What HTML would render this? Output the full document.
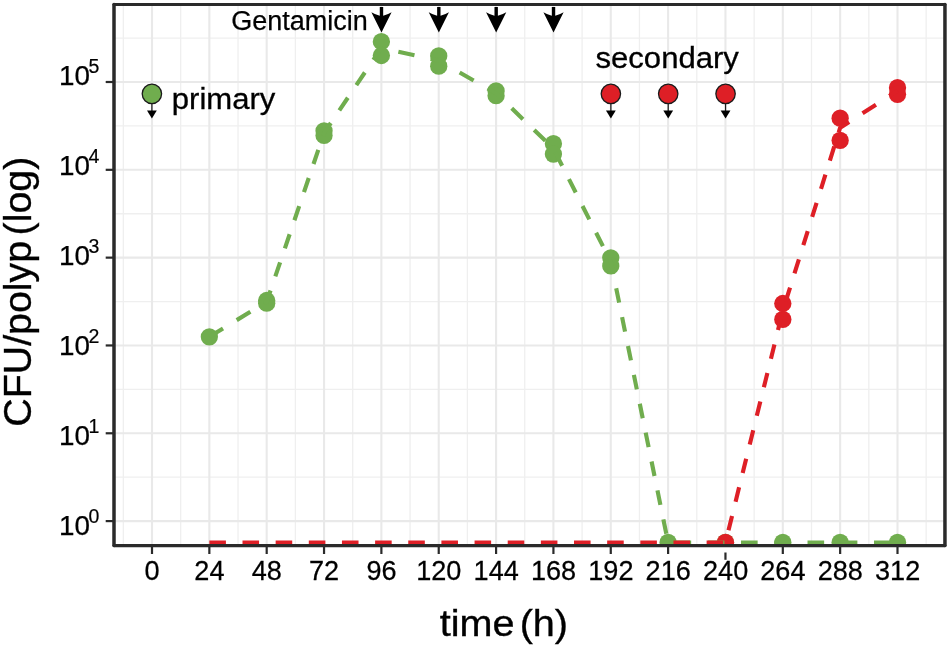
<!DOCTYPE html>
<html><head><meta charset="utf-8"><title>CFU/polyp time course</title>
<style>html,body{margin:0;padding:0;background:#fff}svg{display:block}</style></head>
<body>
<svg width="950" height="648" viewBox="0 0 950 648" font-family="&quot;Liberation Sans&quot;, sans-serif" fill="#000">
<rect width="950" height="648" fill="#fff"/>
<g stroke="#efefef" stroke-width="1.3"><line x1="123.33" x2="123.33" y1="4.5" y2="545.2"/><line x1="180.67" x2="180.67" y1="4.5" y2="545.2"/><line x1="238.02" x2="238.02" y1="4.5" y2="545.2"/><line x1="295.37" x2="295.37" y1="4.5" y2="545.2"/><line x1="352.71" x2="352.71" y1="4.5" y2="545.2"/><line x1="410.06" x2="410.06" y1="4.5" y2="545.2"/><line x1="467.40" x2="467.40" y1="4.5" y2="545.2"/><line x1="524.75" x2="524.75" y1="4.5" y2="545.2"/><line x1="582.10" x2="582.10" y1="4.5" y2="545.2"/><line x1="639.44" x2="639.44" y1="4.5" y2="545.2"/><line x1="696.79" x2="696.79" y1="4.5" y2="545.2"/><line x1="754.13" x2="754.13" y1="4.5" y2="545.2"/><line x1="811.48" x2="811.48" y1="4.5" y2="545.2"/><line x1="868.82" x2="868.82" y1="4.5" y2="545.2"/><line x1="926.17" x2="926.17" y1="4.5" y2="545.2"/><line y1="477.19" y2="477.19" x1="114.0" x2="944.95"/><line y1="389.37" y2="389.37" x1="114.0" x2="944.95"/><line y1="301.55" y2="301.55" x1="114.0" x2="944.95"/><line y1="213.73" y2="213.73" x1="114.0" x2="944.95"/><line y1="125.91" y2="125.91" x1="114.0" x2="944.95"/><line y1="38.09" y2="38.09" x1="114.0" x2="944.95"/></g>
<g stroke="#e9e9e9" stroke-width="2.1"><line x1="152.00" x2="152.00" y1="4.5" y2="545.2"/><line x1="209.35" x2="209.35" y1="4.5" y2="545.2"/><line x1="266.69" x2="266.69" y1="4.5" y2="545.2"/><line x1="324.04" x2="324.04" y1="4.5" y2="545.2"/><line x1="381.38" x2="381.38" y1="4.5" y2="545.2"/><line x1="438.73" x2="438.73" y1="4.5" y2="545.2"/><line x1="496.08" x2="496.08" y1="4.5" y2="545.2"/><line x1="553.42" x2="553.42" y1="4.5" y2="545.2"/><line x1="610.77" x2="610.77" y1="4.5" y2="545.2"/><line x1="668.11" x2="668.11" y1="4.5" y2="545.2"/><line x1="725.46" x2="725.46" y1="4.5" y2="545.2"/><line x1="782.81" x2="782.81" y1="4.5" y2="545.2"/><line x1="840.15" x2="840.15" y1="4.5" y2="545.2"/><line x1="897.50" x2="897.50" y1="4.5" y2="545.2"/><line y1="521.10" y2="521.10" x1="114.0" x2="944.95"/><line y1="433.28" y2="433.28" x1="114.0" x2="944.95"/><line y1="345.46" y2="345.46" x1="114.0" x2="944.95"/><line y1="257.64" y2="257.64" x1="114.0" x2="944.95"/><line y1="169.82" y2="169.82" x1="114.0" x2="944.95"/><line y1="82.00" y2="82.00" x1="114.0" x2="944.95"/></g>
<clipPath id="pc"><rect x="114.0" y="4.5" width="830.95" height="540.7"/></clipPath>
<g clip-path="url(#pc)">
<g fill="#70ad4e"><circle cx="209.35" cy="336.80" r="8.65"/><circle cx="266.69" cy="300.50" r="8.65"/><circle cx="266.69" cy="303.20" r="8.65"/><circle cx="324.04" cy="130.80" r="8.65"/><circle cx="324.04" cy="135.40" r="8.65"/><circle cx="381.38" cy="41.70" r="8.65"/><circle cx="381.38" cy="55.50" r="8.65"/><circle cx="438.73" cy="55.90" r="8.65"/><circle cx="438.73" cy="66.20" r="8.65"/><circle cx="496.08" cy="90.90" r="8.65"/><circle cx="496.08" cy="95.70" r="8.65"/><circle cx="553.42" cy="143.70" r="8.65"/><circle cx="553.42" cy="154.10" r="8.65"/><circle cx="610.77" cy="257.80" r="8.65"/><circle cx="610.77" cy="265.90" r="8.65"/><circle cx="668.11" cy="542.30" r="8.65"/><circle cx="725.46" cy="542.30" r="8.65"/><circle cx="782.81" cy="542.30" r="8.65"/><circle cx="840.15" cy="542.30" r="8.65"/><circle cx="897.50" cy="542.30" r="8.65"/></g>
<g fill="#de1f26"><circle cx="725.46" cy="542.30" r="8.65"/><circle cx="782.81" cy="303.50" r="8.65"/><circle cx="782.81" cy="319.40" r="8.65"/><circle cx="840.15" cy="118.20" r="8.65"/><circle cx="840.15" cy="140.40" r="8.65"/><circle cx="897.50" cy="87.70" r="8.65"/><circle cx="897.50" cy="94.30" r="8.65"/></g>
<path d="M209.35 336.80 L223.02 328.46 M236.70 320.12 L250.37 311.78 M264.05 303.44 L266.69 301.83 L270.54 290.49 M275.32 276.43 L280.10 262.37 M284.87 248.32 L289.65 234.26 M294.42 220.21 L299.20 206.15 M303.97 192.09 L308.75 178.04 M313.52 163.98 L318.30 149.92 M323.07 135.87 L324.04 133.03 L330.82 122.97 M339.33 110.36 L347.83 97.75 M356.33 85.14 L364.83 72.53 M373.33 59.92 L381.38 47.98 L382.24 48.17 M398.36 51.75 L414.48 55.32 M430.60 58.90 L438.73 60.70 L445.66 64.63 M459.65 72.57 L473.63 80.50 M487.62 88.43 L496.08 93.22 L500.51 97.50 M511.73 108.33 L522.95 119.15 M534.17 129.98 L545.40 140.80 M555.36 152.36 L562.15 165.75 M568.94 179.15 L575.73 192.54 M582.52 205.94 L589.32 219.33 M596.11 232.72 L602.90 246.12 M609.69 259.51 L610.77 261.64 L613.25 273.79 M616.20 288.23 L619.14 302.67 M622.09 317.11 L625.04 331.56 M627.99 346.00 L630.93 360.44 M633.88 374.88 L636.83 389.33 M639.78 403.77 L642.73 418.21 M645.67 432.65 L648.62 447.10 M651.57 461.54 L654.52 475.98 M657.46 490.42 L660.41 504.86 M663.36 519.31 L666.31 533.75 M674.55 542.60 L691.17 542.60 M707.79 542.60 L724.41 542.60 M741.03 542.60 L757.65 542.60 M774.27 542.60 L782.81 542.60 L790.90 542.60 M807.52 542.60 L824.14 542.60 M840.76 542.60 L857.38 542.60 M874.00 542.60 L890.62 542.60" fill="none" stroke="#70ad4e" stroke-width="4.15" stroke-linejoin="round"/>
<path d="M209.35 542.60 L225.92 542.60 M242.50 542.60 L259.07 542.60 M275.65 542.60 L292.22 542.60 M308.80 542.60 L324.04 542.60 L325.38 542.60 M341.95 542.60 L358.53 542.60 M375.10 542.60 L381.38 542.60 L391.68 542.60 M408.25 542.60 L424.83 542.60 M441.40 542.60 L457.98 542.60 M474.56 542.60 L491.13 542.60 M507.71 542.60 L524.28 542.60 M540.86 542.60 L553.42 542.60 L557.43 542.60 M574.01 542.60 L590.58 542.60 M607.16 542.60 L610.77 542.60 L623.74 542.60 M640.31 542.60 L656.89 542.60 M673.46 542.60 L690.04 542.60 M706.61 542.60 L723.19 542.60 M728.51 530.26 L732.05 515.96 M735.58 501.66 L739.11 487.36 M742.65 473.07 L746.18 458.77 M749.72 444.47 L753.25 430.17 M756.79 415.87 L760.32 401.57 M763.86 387.28 L767.39 372.98 M770.93 358.68 L774.46 344.38 M778.00 330.08 L781.53 315.78 M785.63 301.61 L790.05 287.51 M794.48 273.40 L798.90 259.30 M803.32 245.19 L807.74 231.09 M812.16 216.98 L816.59 202.88 M821.01 188.77 L825.43 174.67 M829.85 160.56 L834.27 146.46 M838.70 132.35 L840.15 127.71 L849.14 121.93 M862.54 113.32 L875.94 104.71 M889.34 96.10 L897.50 90.86" fill="none" stroke="#de1f26" stroke-width="4.15" stroke-linejoin="round"/>
</g>
<path d="M379.78 7 H383.18 V15.7 Q386.98 14.9 391.58 12.2 L381.48 32.4 L371.38 12.2 Q375.98 14.9 379.78 15.7 Z" fill="#000"/>
<path d="M437.13 7 H440.53 V15.7 Q444.33 14.9 448.93 12.2 L438.83 32.4 L428.73 12.2 Q433.33 14.9 437.13 15.7 Z" fill="#000"/>
<path d="M494.48 7 H497.88 V15.7 Q501.68 14.9 506.28 12.2 L496.18 32.4 L486.08 12.2 Q490.68 14.9 494.48 15.7 Z" fill="#000"/>
<path d="M551.82 7 H555.22 V15.7 Q559.02 14.9 563.62 12.2 L553.52 32.4 L543.42 12.2 Q548.02 14.9 551.82 15.7 Z" fill="#000"/>
<line x1="151.90" x2="151.90" y1="103" y2="112" stroke="#1c1c1c" stroke-width="1.25"/>
<path d="M147.00 110.5 H156.80 L151.90 118.6 Z" fill="#000"/>
<circle cx="151.90" cy="93.85" r="9.7" fill="#70ad4e" stroke="#1a1a1a" stroke-width="1.3"/>
<line x1="610.87" x2="610.87" y1="103" y2="112" stroke="#1c1c1c" stroke-width="1.25"/>
<path d="M605.97 110.5 H615.77 L610.87 118.6 Z" fill="#000"/>
<circle cx="610.87" cy="93.85" r="9.7" fill="#de1f26" stroke="#1a1a1a" stroke-width="1.3"/>
<line x1="668.21" x2="668.21" y1="103" y2="112" stroke="#1c1c1c" stroke-width="1.25"/>
<path d="M663.31 110.5 H673.11 L668.21 118.6 Z" fill="#000"/>
<circle cx="668.21" cy="93.85" r="9.7" fill="#de1f26" stroke="#1a1a1a" stroke-width="1.3"/>
<line x1="725.56" x2="725.56" y1="103" y2="112" stroke="#1c1c1c" stroke-width="1.25"/>
<path d="M720.66 110.5 H730.46 L725.56 118.6 Z" fill="#000"/>
<circle cx="725.56" cy="93.85" r="9.7" fill="#de1f26" stroke="#1a1a1a" stroke-width="1.3"/>
<g stroke="#2a2a2a" stroke-linecap="round"><line x1="114.0" x2="944.95" y1="4.5" y2="4.5" stroke-width="3.05"/><line x1="114.0" x2="944.95" y1="545.6" y2="545.6" stroke-width="3.05"/><line x1="114.0" x2="114.0" y1="4.5" y2="545.6" stroke-width="3.5"/><line x1="944.95" x2="944.95" y1="4.5" y2="545.6" stroke-width="3.5"/></g>
<g stroke="#2a2a2a" stroke-width="2.2"><line x1="152.00" x2="152.00" y1="546" y2="554"/><line x1="209.35" x2="209.35" y1="546" y2="554"/><line x1="266.69" x2="266.69" y1="546" y2="554"/><line x1="324.04" x2="324.04" y1="546" y2="554"/><line x1="381.38" x2="381.38" y1="546" y2="554"/><line x1="438.73" x2="438.73" y1="546" y2="554"/><line x1="496.08" x2="496.08" y1="546" y2="554"/><line x1="553.42" x2="553.42" y1="546" y2="554"/><line x1="610.77" x2="610.77" y1="546" y2="554"/><line x1="668.11" x2="668.11" y1="546" y2="554"/><line x1="725.46" x2="725.46" y1="552.5" y2="559.8"/><line x1="782.81" x2="782.81" y1="546" y2="554"/><line x1="840.15" x2="840.15" y1="546" y2="554"/><line x1="897.50" x2="897.50" y1="546" y2="554"/><line y1="521.10" y2="521.10" x1="105.7" x2="113.5"/><line y1="433.28" y2="433.28" x1="105.7" x2="113.5"/><line y1="345.46" y2="345.46" x1="105.7" x2="113.5"/><line y1="257.64" y2="257.64" x1="105.7" x2="113.5"/><line y1="169.82" y2="169.82" x1="105.7" x2="113.5"/><line y1="82.00" y2="82.00" x1="105.7" x2="113.5"/></g>
<text id="y0" transform="translate(59.0 535.1)" font-size="27.8" stroke="#000" stroke-width="0.25">10</text>
<text id="ye0" transform="translate(88.6 523.1)" font-size="19.5" stroke="#000" stroke-width="0.2">0</text>
<text id="y1" transform="translate(59.0 445.1)" font-size="27.8" stroke="#000" stroke-width="0.25">10</text>
<text id="ye1" transform="translate(88.6 433.1)" font-size="19.5" stroke="#000" stroke-width="0.2">1</text>
<text id="y2" transform="translate(59.0 355.1)" font-size="27.8" stroke="#000" stroke-width="0.25">10</text>
<text id="ye2" transform="translate(88.6 343.1)" font-size="19.5" stroke="#000" stroke-width="0.2">2</text>
<text id="y3" transform="translate(59.0 265.1)" font-size="27.8" stroke="#000" stroke-width="0.25">10</text>
<text id="ye3" transform="translate(88.6 253.1)" font-size="19.5" stroke="#000" stroke-width="0.2">3</text>
<text id="y4" transform="translate(59.0 175.1)" font-size="27.8" stroke="#000" stroke-width="0.25">10</text>
<text id="ye4" transform="translate(88.6 163.1)" font-size="19.5" stroke="#000" stroke-width="0.2">4</text>
<text id="y5" transform="translate(59.0 85.1)" font-size="27.8" stroke="#000" stroke-width="0.25">10</text>
<text id="ye5" transform="translate(88.6 73.1)" font-size="19.5" stroke="#000" stroke-width="0.2">5</text>
<text id="x0" transform="translate(152.1 580.3) scale(0.975 1)" font-size="27.8" stroke="#000" stroke-width="0.25" text-anchor="middle">0</text>
<text id="x1" transform="translate(209.4 580.3) scale(0.975 1)" font-size="27.8" stroke="#000" stroke-width="0.25" text-anchor="middle">24</text>
<text id="x2" transform="translate(266.8 580.3) scale(0.975 1)" font-size="27.8" stroke="#000" stroke-width="0.25" text-anchor="middle">48</text>
<text id="x3" transform="translate(324.1 580.3) scale(0.975 1)" font-size="27.8" stroke="#000" stroke-width="0.25" text-anchor="middle">72</text>
<text id="x4" transform="translate(381.5 580.3) scale(0.975 1)" font-size="27.8" stroke="#000" stroke-width="0.25" text-anchor="middle">96</text>
<text id="x5" transform="translate(438.8 580.3) scale(0.975 1)" font-size="27.8" stroke="#000" stroke-width="0.25" text-anchor="middle">120</text>
<text id="x6" transform="translate(496.2 580.3) scale(0.975 1)" font-size="27.8" stroke="#000" stroke-width="0.25" text-anchor="middle">144</text>
<text id="x7" transform="translate(553.5 580.3) scale(0.975 1)" font-size="27.8" stroke="#000" stroke-width="0.25" text-anchor="middle">168</text>
<text id="x8" transform="translate(610.9 580.3) scale(0.975 1)" font-size="27.8" stroke="#000" stroke-width="0.25" text-anchor="middle">192</text>
<text id="x9" transform="translate(668.2 580.3) scale(0.975 1)" font-size="27.8" stroke="#000" stroke-width="0.25" text-anchor="middle">216</text>
<text id="x10" transform="translate(725.6 580.3) scale(0.975 1)" font-size="27.8" stroke="#000" stroke-width="0.25" text-anchor="middle">240</text>
<text id="x11" transform="translate(782.9 580.3) scale(0.975 1)" font-size="27.8" stroke="#000" stroke-width="0.25" text-anchor="middle">264</text>
<text id="x12" transform="translate(840.3 580.3) scale(0.975 1)" font-size="27.8" stroke="#000" stroke-width="0.25" text-anchor="middle">288</text>
<text id="x13" transform="translate(897.6 580.3) scale(0.975 1)" font-size="27.8" stroke="#000" stroke-width="0.25" text-anchor="middle">312</text>
<text id="gent" transform="translate(231.2 29.8)" font-size="27" stroke="#000" stroke-width="0.25">Gentamicin</text>
<text id="prim" transform="translate(171.8 109.3) scale(1.072 1)" font-size="29" stroke="#000" stroke-width="0.3">primary</text>
<text id="sec" transform="translate(595.5 68.35) scale(1.072 1)" font-size="29" stroke="#000" stroke-width="0.3">secondary</text>
<text id="xt" transform="translate(439.7 636.3) scale(1.07 1)" font-size="37" word-spacing="-5.4" stroke="#000" stroke-width="0.35">time (h)</text>
<text id="yt" transform="translate(30.8 426.7) rotate(-90) scale(1.03 1)" font-size="38.2" word-spacing="-5.3" stroke="#000" stroke-width="0.35">CFU/polyp (log)</text>
</svg>
</body></html>
